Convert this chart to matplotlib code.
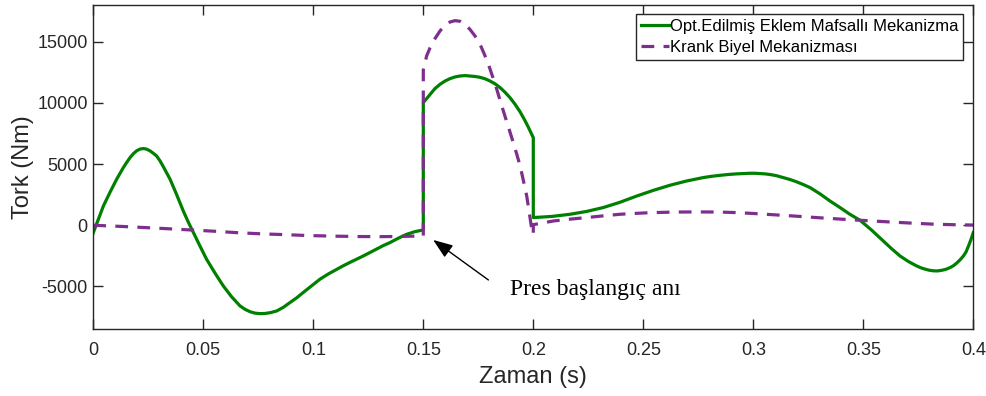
import matplotlib
matplotlib.use("Agg")
import matplotlib.pyplot as plt

# Optimized joint-linkage press mechanism: time (s) and torque (Nm)
t_opt = [0.000, 0.0023, 0.0046, 0.0076, 0.0106, 0.0136, 0.0152, 0.0167, 0.0182, 0.0197,
         0.0212, 0.0227, 0.0242, 0.0258, 0.0273, 0.0288, 0.0303, 0.0318, 0.0333, 0.0349,
         0.0379, 0.0409, 0.0432, 0.0455, 0.0485, 0.0515, 0.0553, 0.0591, 0.0629, 0.0667,
         0.0690, 0.0712, 0.0735, 0.0758, 0.0781, 0.0805, 0.0834, 0.0864, 0.0894, 0.0925,
         0.0955, 0.0992, 0.1030, 0.1068, 0.1106, 0.1136, 0.1167, 0.1197, 0.1227, 0.1258,
         0.1288, 0.1318, 0.1349, 0.1386, 0.1424, 0.1462, 0.1500,
         0.1500, 0.1508, 0.1531, 0.1553, 0.1576, 0.1599, 0.1621, 0.1644, 0.1667, 0.1690,
         0.1712, 0.1735, 0.1758, 0.1781, 0.1803, 0.1826, 0.1849, 0.1871, 0.1894, 0.1917,
         0.1940, 0.1962, 0.1977, 0.2000,
         0.2000, 0.2083, 0.2167, 0.2242, 0.2318, 0.2394, 0.2470, 0.2545, 0.2621, 0.2697,
         0.2773, 0.2810, 0.2848, 0.2886, 0.2924, 0.2955, 0.2985, 0.3008, 0.3030, 0.3053,
         0.3076, 0.3106, 0.3136, 0.3167, 0.3197, 0.3227, 0.3258, 0.3303, 0.3348, 0.3394,
         0.3439, 0.3485, 0.3538, 0.3591, 0.3629, 0.3667, 0.3705, 0.3742, 0.3761, 0.3780,
         0.3799, 0.3818, 0.3837, 0.3856, 0.3875, 0.3894, 0.3910, 0.3925, 0.3940, 0.3955,
         0.3967, 0.3978, 0.3989, 0.4000]
tork_opt = [-600, 500, 1580, 2700, 3760, 4700, 5140, 5530, 5850, 6085,
            6224, 6270, 6225, 6080, 5880, 5660, 5270, 4800, 4300, 3760,
            2500, 1170, 250, -600, -1700, -2780, -3900, -4960, -5850, -6590,
            -6870, -7060, -7180, -7220, -7205, -7140, -7000, -6700, -6320, -5920,
            -5480, -4950, -4410, -3980, -3600, -3310, -3030, -2770, -2510, -2220,
            -1930, -1660, -1410, -1060, -740, -520, -380,
            10020, 10200, 10700, 11170, 11520, 11790, 11980, 12120, 12200, 12230,
            12200, 12160, 12090, 11970, 11790, 11560, 11250, 10880, 10430, 9890,
            9270, 8560, 8030, 7160,
            630, 720, 900, 1130, 1450, 1880, 2390, 2850, 3270, 3620,
            3900, 4000, 4080, 4150, 4200, 4230, 4250, 4250, 4230, 4200,
            4150, 4050, 3900, 3740, 3550, 3330, 3080, 2570, 1990, 1450,
            900, 410, -400, -1280, -1920, -2510, -2960, -3320, -3470, -3580,
            -3670, -3720, -3730, -3680, -3600, -3460, -3300, -3080, -2820, -2510,
            -2180, -1700, -1180, -600]

# Slider-crank mechanism: time (s) and torque (Nm)
t_krank = [0.000, 0.0136, 0.0273, 0.0440, 0.0545, 0.0650, 0.0764, 0.0864, 0.0977, 0.1100,
           0.1212, 0.1303, 0.1400, 0.1500,
           0.1500, 0.1508, 0.1515, 0.1531, 0.1553, 0.1576, 0.1599, 0.1621, 0.1644, 0.1667,
           0.1690, 0.1712, 0.1735, 0.1758, 0.1777, 0.1796, 0.1815, 0.1834, 0.1852, 0.1871,
           0.1890, 0.1909, 0.1925, 0.1940, 0.1955, 0.1970, 0.1982, 0.1993, 0.2000,
           0.2000, 0.2045, 0.2091, 0.2167, 0.2242, 0.2318, 0.2394, 0.2451, 0.2508, 0.2565,
           0.2621, 0.2678, 0.2735, 0.2792, 0.2848, 0.2917, 0.2985, 0.3083, 0.3182, 0.3295,
           0.3409, 0.3515, 0.3621, 0.3727, 0.3833, 0.3917, 0.4000]
tork_krank = [0, -100, -220, -380, -480, -600, -700, -760, -840, -890,
              -920, -930, -910, -870,
              12700, 13290, 13830, 14520, 15250, 15880, 16340, 16610, 16720, 16670,
              16420, 16010, 15470, 14790, 14000, 13150, 12150, 11110, 10030, 8930,
              7850, 6750, 5800, 4850, 3650, 2400, 1000, -330, -750,
              50, 200, 350, 500, 630, 770, 900, 960, 1010, 1045,
              1070, 1085, 1090, 1088, 1080, 1040, 980, 870, 760, 620,
              490, 380, 270, 170, 80, 45, 20]

label_opt = "Opt.Edilmiş Eklem Mafsallı Mekanizma"
label_krank = "Krank Biyel Mekanizması"
x_ticks = [0, 0.05, 0.1, 0.15, 0.2, 0.25, 0.3, 0.35, 0.4]
x_tick_labels = ["0", "0.05", "0.1", "0.15", "0.2", "0.25", "0.3", "0.35", "0.4"]
y_ticks = [-5000, 0, 5000, 10000, 15000]

axis_color = (0.15, 0.15, 0.15)
plt.rcParams["font.family"] = ["Liberation Sans", "DejaVu Sans"]

W, H = 987, 396
fig = plt.figure(figsize=(W / 100, H / 100), dpi=100)
ax = fig.add_axes([93.3 / W, (H - 329.3) / H, 880 / W, 324.3 / H])

ax.plot(t_opt, tork_opt, color=(0.0, 0.5, 0.0), lw=2.3, label=label_opt,
        solid_joinstyle="round")
ax.plot(t_krank, tork_krank, color=(0.494, 0.184, 0.556), lw=2.3,
        dashes=(4.0, 2.9), label=label_krank)

ax.set_xlim(0, 0.4)
ax.set_ylim(-8500, 18000)
ax.set_xticks(x_ticks)
ax.set_xticklabels(x_tick_labels)
ax.set_yticks(y_ticks)
ax.set_yticklabels([str(v) for v in y_ticks])

for s in ax.spines.values():
    s.set_color(axis_color)
    s.set_linewidth(1.0)
ax.tick_params(direction="in", length=7, width=1.0, colors=axis_color,
               labelsize=13, top=True, right=True)
ax.tick_params(axis="x", pad=9)
ax.tick_params(axis="y", pad=4)

ax.set_xlabel("Zaman (s)", fontsize=17, color=axis_color, labelpad=5)
ax.set_ylabel("Tork (Nm)", fontsize=17, color=axis_color, labelpad=2)

leg = ax.legend(loc="upper right", bbox_to_anchor=(0.9886, 0.9722),
                borderaxespad=0, fontsize=12, frameon=True, fancybox=False,
                framealpha=1, edgecolor=axis_color, handlelength=1.7,
                handletextpad=0.05, borderpad=0.3, labelspacing=0.35)
leg.get_frame().set_linewidth(1.0)

# Press start marker
ax.annotate("", xy=(0.1545, -1200), xytext=(0.1796, -4470),
            arrowprops=dict(arrowstyle="-|>,head_length=1.2,head_width=0.45",
                            color="black", lw=1.0, shrinkA=0, shrinkB=0))
ax.text(0.1894, -5720, "Pres başlangıç anı", fontsize=17,
        family=["Liberation Serif", "DejaVu Serif"], color="black",
        ha="left", va="baseline")

fig.savefig("out.png", dpi=100)
